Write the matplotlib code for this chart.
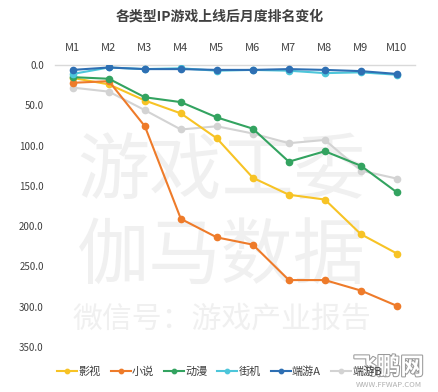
import matplotlib
matplotlib.use('Agg')
import matplotlib.pyplot as plt
import matplotlib.patheffects as pe

plt.rcParams['font.family'] = ['Noto Sans CJK SC', 'DejaVu Sans']

# data (rank, lower = better)
months = ['M1', 'M2', 'M3', 'M4', 'M5', 'M6', 'M7', 'M8', 'M9', 'M10']
yingshi = [16, 24, 44, 60, 91, 140, 161, 167, 210, 234]
xiaoshuo = [22, 20, 76, 191, 214, 223, 267, 267, 280, 299]
dongman = [15, 17, 40, 46, 65, 79, 120, 107, 125, 158]
jieji = [11, 3, 5, 4, 7, 6, 7, 10, 9, 12]
duanyouA = [6, 3, 5, 5, 6, 6, 5, 6, 7.5, 11]
duanyouB = [28, 33, 56, 80, 76, 85, 97, 93, 131, 141]

series = [('影视', yingshi, '#F7C325'),
          ('小说', xiaoshuo, '#EE7B2A'),
          ('动漫', dongman, '#33A360'),
          ('街机', jieji, '#4DC6DA'),
          ('端游A', duanyouA, '#2E6FB3'),
          ('端游B', duanyouB, '#D3D3D3')]

fig = plt.figure(figsize=(4.39, 3.92), dpi=100)
ax = fig.add_axes([0.125, 0.115, 0.82, 0.719])
ax.patch.set_alpha(0)

# watermark text, kept behind the axes
wm = '#F0F0F0'
fig.text(0.505, 0.56, '游戏工委', ha='center', va='center', fontsize=52,
         color=wm, zorder=-1)
fig.text(0.505, 0.34, '伽马数据', ha='center', va='center', fontsize=52,
         color=wm, zorder=-1)
fig.text(0.505, 0.185, '微信号：游戏产业报告', ha='center', va='center', fontsize=21.5,
         color=wm, zorder=-1)

x = list(range(len(months)))
order = [5, 0, 1, 2, 3, 4]
for i in order:
    name, vals, col = series[i]
    ax.plot(x, vals, color=col, lw=1.5, marker='o', ms=4.5, label=name, zorder=3)

ax.set_ylim(350, 0)
ax.set_xlim(-0.5, 9.5)
ax.set_yticks([0, 50, 100, 150, 200, 250, 300, 350])
ax.set_yticklabels(['%.1f' % v for v in [0, 50, 100, 150, 200, 250, 300, 350]],
                   fontsize=7, color='#404040')
ax.xaxis.tick_top()
ax.set_xticks(x)
ax.set_xticklabels(months, fontsize=8, color='#404040')
ax.tick_params(axis='both', length=0)
ax.tick_params(axis='x', pad=9)
ax.tick_params(axis='y', pad=8)
for s in ['left', 'right', 'bottom']:
    ax.spines[s].set_visible(False)
ax.spines['top'].set_color('#D9D9D9')
ax.spines['top'].set_linewidth(1)

fig.suptitle('各类型IP游戏上线后月度排名变化', y=0.975, fontsize=10,
             fontweight='bold', color='#404040')

handles, labels = ax.get_legend_handles_labels()
hmap = dict(zip(labels, handles))
names = [s[0] for s in series]
fig.legend([hmap[n] for n in names], names, loc='center', ncol=6,
           bbox_to_anchor=(0.5, 0.053), frameon=False, fontsize=8,
           handlelength=1.8, handletextpad=0.1, columnspacing=0.9,
           markerscale=0.7, labelcolor='#404040')

# site logo watermark
fig.text(0.885, 0.063, '飞鹏网', ha='center', va='center', fontsize=17,
         fontweight='bold', style='italic', color='white',
         path_effects=[pe.withStroke(linewidth=1.5, foreground='#9A9A9A')])
fig.text(0.885, 0.018, 'WWW.FFWAP.COM', ha='center', va='center', fontsize=5.5,
         color='#B0B0B0')

fig.savefig('out.png', dpi=100)
